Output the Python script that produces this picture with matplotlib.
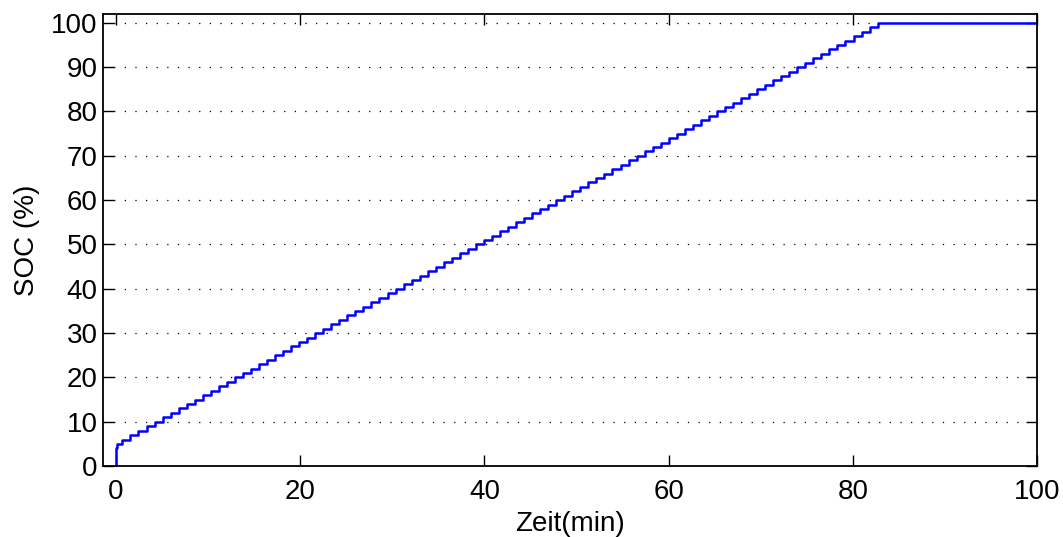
import numpy as np
import matplotlib.pyplot as plt

plt.rcParams['font.family'] = ['Liberation Sans', 'DejaVu Sans']

# Zeitpunkte der SOC-Stufen (min)
zeit = [0.0, 0.02, 0.15, 0.7, 1.57, 2.44, 3.32, 4.19, 5.06, 5.93, 6.81, 7.68,
        8.55, 9.42, 10.30, 11.17, 12.04, 12.91, 13.78, 14.66, 15.53, 16.40,
        17.27, 18.15, 19.02, 19.89, 20.76, 21.64, 22.51, 23.38, 24.25, 25.12,
        26.00, 26.87, 27.74, 28.61, 29.49, 30.36, 31.23, 32.10, 32.98, 33.85,
        34.72, 35.59, 36.46, 37.34, 38.21, 39.08, 39.95, 40.83, 41.70, 42.57,
        43.44, 44.32, 45.19, 46.06, 46.93, 47.80, 48.68, 49.55, 50.42, 51.29,
        52.17, 53.04, 53.91, 54.78, 55.66, 56.53, 57.40, 58.27, 59.14, 60.02,
        60.89, 61.76, 62.63, 63.51, 64.38, 65.25, 66.12, 67.00, 67.87, 68.74,
        69.61, 70.48, 71.36, 72.23, 73.10, 73.97, 74.85, 75.72, 76.59, 77.46,
        78.34, 79.21, 80.08, 80.95, 81.82, 82.70, 100.0]
# SOC (%) ab dem jeweiligen Zeitpunkt
soc = [0, 4, 5, 6, 7, 8, 9, 10, 11, 12, 13, 14, 15, 16, 17, 18, 19, 20, 21,
       22, 23, 24, 25, 26, 27, 28, 29, 30, 31, 32, 33, 34, 35, 36, 37, 38, 39,
       40, 41, 42, 43, 44, 45, 46, 47, 48, 49, 50, 51, 52, 53, 54, 55, 56, 57,
       58, 59, 60, 61, 62, 63, 64, 65, 66, 67, 68, 69, 70, 71, 72, 73, 74, 75,
       76, 77, 78, 79, 80, 81, 82, 83, 84, 85, 86, 87, 88, 89, 90, 91, 92, 93,
       94, 95, 96, 97, 98, 99, 100, 100]

x_ticks = [0, 20, 40, 60, 80, 100]
y_ticks = [0, 10, 20, 30, 40, 50, 60, 70, 80, 90, 100]

fig = plt.figure(figsize=(10.63, 5.37), dpi=100)
ax = fig.add_axes([0.097, 0.132, 0.8785, 0.842])

ax.plot(zeit, soc, color='#0000ff', lw=1.8, drawstyle='steps-post')

ax.set_xlim(-1.4, 100)
ax.set_ylim(0, 102)
ax.set_xticks(x_ticks)
ax.set_yticks(y_ticks)
ax.yaxis.grid(True, color='black', linestyle=(0, (1, 7.5)), lw=0.9)
ax.tick_params(direction='in', length=8, width=1, top=True, right=True,
               labelsize=20)
ax.tick_params(axis='x', pad=9)
ax.tick_params(axis='y', pad=4)
for s in ax.spines.values():
    s.set_linewidth(1.3)

ax.set_xlabel('Zeit(min)', fontsize=20)
ax.set_ylabel('SOC (%)', fontsize=20)
ax.xaxis.set_label_coords(0.5, -0.127)
ax.yaxis.set_label_coords(-0.081, 0.5)
ax.xaxis.label.set_va('center')
ax.yaxis.label.set_va('center')

fig.savefig('out.png', dpi=100)
